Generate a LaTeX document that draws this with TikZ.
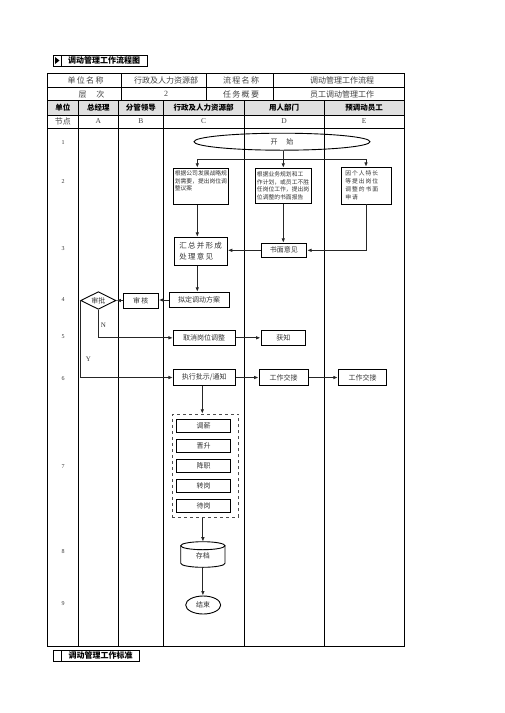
\documentclass[tikz,border=0pt]{standalone}
\usepackage{fontspec}
\setmainfont{Liberation Serif}
\newfontfamily\cjk{Noto Sans CJK SC}
\usetikzlibrary{arrows.meta,shapes.geometric,calc}
\definecolor{hdrgray}{HTML}{E0E0E0}
\begin{document}
\begin{tikzpicture}[x=1pt,y=-1pt,
  tline/.style={line width=0.9pt,draw=black},
  box/.style={draw=black,line width=0.9pt,inner sep=1pt,text=black!80,
    font=\cjk\fontsize{7}{9}\selectfont,align=center},
  smallbox/.style={box,font=\cjk\fontsize{5.8}{7.9}\selectfont,align=left,inner sep=2pt},
  arr/.style={-{Latex[length=4.5pt,width=3.6pt]},line width=0.9pt,draw=black!85},
  plain/.style={draw=black!85,line width=0.9pt},
  lbl/.style={text=black!75,font=\cjk\fontsize{8}{9}\selectfont,inner sep=0},
  hdr/.style={font=\cjk\bfseries\fontsize{7.5}{9}\selectfont,inner sep=0},
  num/.style={font=\fontsize{6}{7}\selectfont,text=black!80,inner sep=0},
  ttl/.style={font=\cjk\bfseries\fontsize{8}{9}\selectfont,inner sep=0}]
\useasboundingbox (0,0) rectangle (504,713);

% ---------- title ----------
\draw[tline] (53,55) rectangle (61,66);
\fill (55,57) -- (59.5,60.5) -- (55,64) -- cycle;
\draw[tline] (61,55) rectangle (147,66);
\node[ttl] (title) at (104,60.5) {调动管理工作流程图};

% ---------- table ----------
\fill[hdrgray] (47,100.7) rectangle (404,115);
\draw[tline] (47,73.3) rectangle (404,646);
\foreach \yy in {87.3,100.7,115,128} \draw[tline] (47,\yy) -- (404,\yy);
\foreach \xx in {121.7,206.7,273.3} \draw[tline] (\xx,73.3) -- (\xx,100.7);
\foreach \xx in {78.3,118.3,163.3,244,324} \draw[tline] (\xx,100.7) -- (\xx,646);

\node[lbl] (r1a) at (85.5,80.3) {单\,位\,名\,称};
\node[lbl] (r1b) at (166,80.3) {行政及人力资源部};
\node[lbl] (r1c) at (241,80.3) {流\,程\,名\,称};
\node[lbl] (r1d) at (342,80.3) {调动管理工作流程};
\node[lbl] (r2a) at (91.5,94) {层\quad\ 次};
\node[lbl,font=\fontsize{8}{9}\selectfont] (r2b) at (166,94) {2};
\node[lbl] (r2c) at (241,94) {任\,务\,概\,要};
\node[lbl] (r2d) at (342,94) {员工调动管理工作};

\node[hdr] (h1) at (62.8,107.9) {单位};
\node[hdr] (h2) at (98.3,107.9) {总经理};
\node[hdr] (h3) at (140.8,107.9) {分管领导};
\node[hdr] (h4) at (203.7,107.9) {行政及人力资源部};
\node[hdr] (h5) at (284,107.9) {用人部门};
\node[hdr] (h6) at (364.2,107.9) {预调动员工};

\node[lbl] (n0) at (62.8,121.5) {节点};
\node[lbl,font=\fontsize{7.5}{9}\selectfont] (nA) at (98.3,121.5) {A};
\node[lbl,font=\fontsize{7.5}{9}\selectfont] (nB) at (140.8,121.5) {B};
\node[lbl,font=\fontsize{7.5}{9}\selectfont] (nC) at (203.7,121.5) {C};
\node[lbl,font=\fontsize{7.5}{9}\selectfont] (nD) at (284,121.5) {D};
\node[lbl,font=\fontsize{7.5}{9}\selectfont] (nE) at (364.2,121.5) {E};

\foreach \n/\yy in {1/142.3,2/181.7,3/248.3,4/300,5/336.7,6/378.3,7/466.7,8/551.7,9/603.3}
  \node[num] (k\n) at (63,\yy) {\n};

% ---------- flow ----------
\node[draw=black,line width=0.9pt,ellipse,minimum width=176,minimum height=17,inner sep=0,
  text=black!80,font=\cjk\fontsize{7}{9}\selectfont] (start) at (282,141.7) {开\quad\ 始};

\node[smallbox,minimum width=55,minimum height=36,inner sep=1.5pt] (c2) at (200.8,186.2)
  {\parbox[c][32pt][t]{52pt}{根据公司发展战略规\\划需要，提出岗位调\\整议案}};
\node[smallbox,minimum width=56.7,minimum height=35,text width=52.7] (d2) at (283.3,185.8)
  {根据业务规划和工\\作计划，或员工不胜\\任岗位工作，提出岗\\位调整的书面报告};
\node[smallbox,minimum width=49.3,minimum height=36.7,text width=42,inner sep=3pt] (e2) at (366.3,185.6)
  {因\,个\,人\,特\,长\\等\,提\,出\,岗\,位\\调\,整\,的\,书\,面\\申\,请};

\node[box,minimum width=53.3,minimum height=27.7,font=\cjk\fontsize{7.5}{10.7}\selectfont] (c3) at (200.7,251.2)
  {汇\,总\,并\,形\,成\\处\,理\,意\,见\hphantom{\,成}};
\node[box,minimum width=45.7,minimum height=14] (d3) at (283.8,250.3) {书面意见};

\node[box,minimum width=59.7,minimum height=15.4] (c4) at (199.2,300) {拟定调动方案};
\node[box,minimum width=35,minimum height=15] (b4) at (140.8,300.5) {审\,核};
\node[draw=black,line width=0.9pt,diamond,aspect=2,minimum width=35.3,minimum height=17.6,inner sep=0,
  text=black!80,font=\cjk\fontsize{7}{9}\selectfont] (dm) at (98.3,300.5) {审批};

\node[box,minimum width=61.7,minimum height=15.7] (c5) at (204.2,337.8) {取消岗位调整};
\node[box,minimum width=44.7,minimum height=15] (d5) at (283.3,337.8) {获知};

\node[box,minimum width=61.7,minimum height=16.4] (c6) at (204.2,377.5) {执行批示/通知};
\node[box,minimum width=49.3,minimum height=15.7] (d6) at (283.7,377.5) {工作交接};
\node[box,minimum width=48.4,minimum height=16] (e6) at (362.5,377.5) {工作交接};

\node[draw=black!70,dashed,line width=0.6pt,minimum width=66,minimum height=103.3,inner sep=0] (grp) at (205.3,465.7) {};
\foreach \i/\t/\yy in {1/调薪/425.8,2/晋升/445.8,3/降职/465.8,4/转岗/485.8,5/待岗/505.8}
  \node[box,minimum width=54,minimum height=13,inner sep=0] (g\i) at (203.7,\yy) {\t};

% cylinder 存档
\draw[line width=0.9pt] (180.7,545.7) -- (180.7,563.3)
  arc[start angle=180,end angle=0,x radius=22.15,y radius=4] -- (225,545.7);
\draw[line width=0.9pt] (202.85,545.7) ellipse[x radius=22.15,y radius=4];
\node[minimum width=44.3,minimum height=25.6,inner sep=0,text=black!80,
  font=\cjk\fontsize{7}{9}\selectfont] (cyl) at (202.9,556) {存档};
\coordinate (cyltop) at (202.9,541.7);
\coordinate (cylbot) at (202.9,567.3);

\node[draw=black,line width=0.9pt,ellipse,minimum width=35,minimum height=18,inner sep=0,
  text=black!80,font=\cjk\fontsize{7}{9}\selectfont] (end) at (203.2,605) {结束};

% ---------- connectors ----------
\coordinate (jl) at (197.3,159);
\coordinate (jr) at (366,159);
\draw[arr] (d2.north |- start.south) -- (d2.north);
\draw[plain] (jl) -- (jr);
\draw[arr] (jl) -- (jl |- c2.north);
\draw[arr] (jr) -- (jr |- e2.north);

\draw[arr] (jl |- c2.south) -- (jl |- c3.north);
\draw[arr] (d2.south) -- (d2.south |- d3.north);
\draw[arr] (e2.south) |- (d3.east);
\draw[arr] (d3.west) -- (d3.west -| c3.east);
\draw[arr] (jl |- c3.south) -- (jl |- c4.north);
\draw[arr] (c4.west) -- (c4.west -| b4.east);
\draw[arr] (b4.west) -- (dm.east);
\draw[arr] (dm.south) |- (c5.west);
\draw[arr] (dm.west) |- (c6.west);
\node[num,font=\fontsize{7}{8}\selectfont] (lN) at (103.3,325.7) {N};
\node[num,font=\fontsize{7}{8}\selectfont] (lY) at (88.3,359) {Y};

\draw[arr] (c5.east) -- (d5.west);
\draw[arr] (c6.east) -- (d6.west);
\draw[arr] (d6.east) -- (e6.west);
\draw[arr] (c6.south -| 202.3,0) -- (grp.north -| 202.3,0);
\draw[arr] (grp.south -| cyltop) -- (cyltop);
\draw[arr] (cylbot) -- (cylbot |- end.north);

% ---------- footer ----------
\draw[tline] (53.3,650) rectangle (61.7,661.7);
\draw[tline] (61.7,650) rectangle (139.3,661.7);
\node[ttl] (foot) at (100.5,655.9) {调动管理工作标准};
\end{tikzpicture}
\end{document}
